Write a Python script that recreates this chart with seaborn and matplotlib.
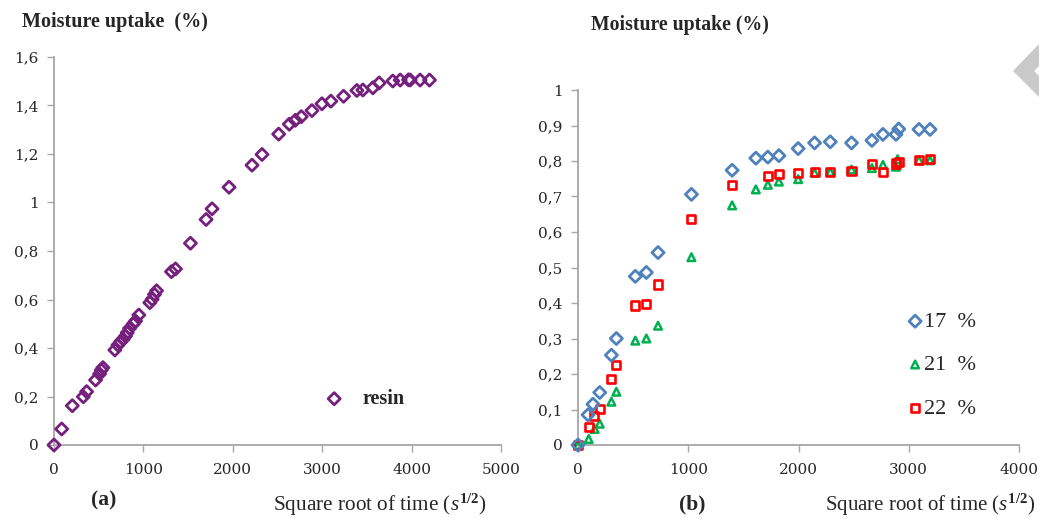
import numpy as np
import pandas as pd
import matplotlib
matplotlib.use("Agg")
import matplotlib.pyplot as plt
from matplotlib.patches import Polygon
from matplotlib.ticker import FuncFormatter, MultipleLocator
import seaborn as sns

# ---- (a) neat resin ----
resin_x = [0, 86, 205, 328, 365, 465, 510, 529, 547, 681, 715, 745, 774, 800, 819,
           845, 886, 912, 949, 1072, 1098, 1124, 1147, 1314, 1359, 1526, 1701, 1768,
           1958, 2215, 2327, 2513, 2632, 2699, 2766, 2885, 2997, 3097, 3239, 3388,
           3455, 3567, 3637, 3790, 3872, 3965, 3984, 4095, 4200]
resin_y = [0.0, 0.066, 0.162, 0.199, 0.220, 0.268, 0.293, 0.309, 0.319, 0.392, 0.412,
           0.426, 0.436, 0.449, 0.463, 0.481, 0.499, 0.511, 0.536, 0.587, 0.601, 0.621,
           0.636, 0.715, 0.726, 0.832, 0.930, 0.974, 1.063, 1.154, 1.198, 1.282, 1.323,
           1.339, 1.354, 1.379, 1.407, 1.418, 1.438, 1.462, 1.464, 1.473, 1.493, 1.501,
           1.505, 1.506, 1.505, 1.505, 1.505]

# ---- (b) composites ----
c17_x = [0, 91, 136, 197, 303, 348, 520, 620, 726, 1029, 1398, 1613, 1722, 1822, 1997,
         2146, 2288, 2481, 2666, 2766, 2884, 2909, 3093, 3193]
c17_y = [0.0, 0.085, 0.115, 0.148, 0.253, 0.300, 0.475, 0.486, 0.542, 0.706, 0.774,
         0.808, 0.811, 0.815, 0.835, 0.851, 0.854, 0.851, 0.858, 0.875, 0.875, 0.890,
         0.889, 0.889]
c21_x = [0, 97, 151, 197, 303, 348, 520, 620, 726, 1029, 1398, 1613, 1722, 1822, 1997,
         2146, 2288, 2481, 2666, 2766, 2884, 2899, 3093, 3193]
c21_y = [0.0, 0.017, 0.045, 0.060, 0.122, 0.150, 0.294, 0.300, 0.336, 0.529, 0.675,
         0.720, 0.733, 0.742, 0.749, 0.767, 0.769, 0.776, 0.780, 0.789, 0.784, 0.805,
         0.802, 0.802]
c22_x = [0, 97, 145, 197, 303, 348, 520, 620, 726, 1029, 1398, 1722, 1822, 1997, 2146,
         2288, 2481, 2666, 2766, 2884, 2909, 3093, 3193]
c22_y = [0.0, 0.051, 0.082, 0.102, 0.186, 0.226, 0.393, 0.398, 0.452, 0.637, 0.732,
         0.757, 0.763, 0.766, 0.768, 0.768, 0.772, 0.792, 0.768, 0.793, 0.797, 0.802,
         0.805]

labels_b = ["17  %", "21  %", "22  %"]

sns.set_theme(style="white")
plt.rcParams["font.family"] = ["Liberation Serif", "DejaVu Serif"]
plt.rcParams["mathtext.fontset"] = "custom"
plt.rcParams["mathtext.rm"] = "Liberation Serif"
plt.rcParams["mathtext.it"] = "Liberation Serif:italic"
plt.rcParams["mathtext.bf"] = "Liberation Serif:bold"

W, H = 1039, 518
fig = plt.figure(figsize=(W / 100, H / 100), dpi=100)
fig.patch.set_facecolor("white")


def px_axes(x0, y0, x1, y1):
    return fig.add_axes([x0 / W, 1 - y1 / H, (x1 - x0) / W, (y1 - y0) / H])


ax_a = px_axes(54, 57, 501, 445)
ax_b = px_axes(578, 90, 1019, 445)

comma = FuncFormatter(lambda v, p: ("%g" % round(v, 3)).replace(".", ","))

purple = "#74207C"
blue = "#4F81BD"
green = "#00B050"
red = "#FF0000"

df_a = pd.DataFrame({"x": resin_x, "y": resin_y})
sns.scatterplot(data=df_a, x="x", y="y", ax=ax_a, marker="D", s=38,
                facecolor="none", edgecolor=purple, linewidth=2.0, label="resin",
                clip_on=False, zorder=3)

df_b = pd.concat([
    pd.DataFrame({"x": c17_x, "y": c17_y, "set": labels_b[0]}),
    pd.DataFrame({"x": c21_x, "y": c21_y, "set": labels_b[1]}),
    pd.DataFrame({"x": c22_x, "y": c22_y, "set": labels_b[2]}),
])
styles = [("D", blue, 38, 2.0), ("^", green, 30, 1.8), ("s", red, 34, 1.9)]
# triangles underneath, then squares, diamonds last
order = [1, 2, 0]
for i in order:
    lab = labels_b[i]
    mk, col, size, lw = styles[i]
    sub = df_b[df_b["set"] == lab]
    sns.scatterplot(data=sub, x="x", y="y", ax=ax_b, marker=mk, s=size,
                    facecolor="none", edgecolor=col, linewidth=lw, label=lab,
                    clip_on=False, zorder=3)

for ax in (ax_a, ax_b):
    ax.set_xlabel("")
    ax.set_ylabel("")
    for side in ("top", "right"):
        ax.spines[side].set_visible(False)
    for side in ("left", "bottom"):
        ax.spines[side].set_color("#a6a6a6")
        ax.spines[side].set_linewidth(1.3)
    ax.tick_params(axis="both", which="major", direction="out", length=5,
                   width=1.0, color="#a6a6a6", pad=6, left=True, bottom=True)
    ax.yaxis.set_major_formatter(comma)
    ax.set_facecolor("none")

ax_a.set_xlim(0, 5000)
ax_a.set_ylim(0, 1.6)
ax_a.xaxis.set_major_locator(MultipleLocator(1000))
ax_a.yaxis.set_major_locator(MultipleLocator(0.2))

ax_b.set_xlim(0, 4000)
ax_b.set_ylim(0, 1.0)
ax_b.xaxis.set_major_locator(MultipleLocator(1000))
ax_b.yaxis.set_major_locator(MultipleLocator(0.1))

for ax in (ax_a, ax_b):
    ax.tick_params(axis="x", pad=8)
    for lab in ax.get_xticklabels() + ax.get_yticklabels():
        lab.set_fontfamily("DejaVu Serif")
        lab.set_fontsize(11)

# legends
ax_a.legend(loc="center left", bbox_to_anchor=((306 - 54) / 447, (445 - 399) / 388),
            frameon=False, handletextpad=0.9, handlelength=1.0,
            prop={"weight": "bold", "size": 14.5, "family": "Liberation Serif"})
hs, ls = ax_b.get_legend_handles_labels()
idx = [ls.index(l) for l in labels_b]
ax_b.legend([hs[i] for i in idx], [ls[i] for i in idx],
            loc="center left",
            bbox_to_anchor=((884 - 578) / 441, (445 - 365) / 355),
            frameon=False, handletextpad=-0.1, handlelength=1.0,
            labelspacing=1.02, prop={"size": 16, "family": "Liberation Serif"})

# titles and axis captions
fig.text(22 / W, 1 - 22 / H, "Moisture uptake  (%)", ha="left", va="center",
         fontsize=14.5, fontweight="bold")
fig.text(591 / W, 1 - 25 / H, "Moisture uptake (%)", ha="left", va="center",
         fontsize=14.2, fontweight="bold")
fig.text(487 / W, 1 - 505 / H, r"Square root of time ($\mathit{s}^{\mathbf{1/2}}$)",
         ha="right", va="center", fontsize=15.3)
fig.text(1035 / W, 1 - 505 / H, r"Square root of time ($\mathit{s}^{\mathbf{1/2}}$)",
         ha="right", va="center", fontsize=15)
fig.text(104 / W, 1 - 500 / H, "(a)", ha="center", va="center",
         fontsize=15.5, fontweight="bold")
fig.text(692 / W, 1 - 504 / H, "(b)", ha="center", va="center",
         fontsize=15.5, fontweight="bold")

# grey arrow tab at the upper right edge
tab = Polygon([[1013 / W, 1 - 71 / H], [1040 / W, 1 - 43 / H], [1040 / W, 1 - 98 / H]],
              closed=True, transform=fig.transFigure, facecolor="#c9c9c9",
              edgecolor="none")
notch = Polygon([[1034 / W, 1 - 71 / H], [1040 / W, 1 - 65 / H], [1040 / W, 1 - 77 / H]],
                closed=True, transform=fig.transFigure, facecolor="white",
                edgecolor="none")
fig.patches.extend([tab, notch])

fig.savefig("out.png", dpi=100, facecolor="white")
